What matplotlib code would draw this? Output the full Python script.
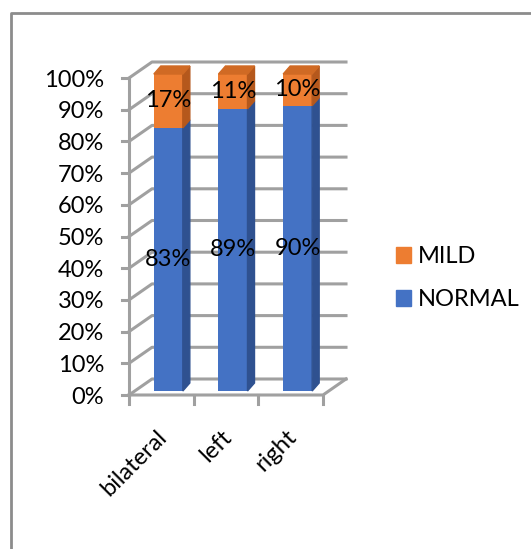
import numpy as np
import matplotlib
matplotlib.use("Agg")
import matplotlib.pyplot as plt
from matplotlib.patches import Polygon, Patch
from matplotlib.lines import Line2D

plt.rcParams['font.family'] = ['Lato', 'DejaVu Sans']

# data
categories = ["bilateral", "left", "right"]
normal = [83, 89, 90]
mild = [17, 11, 10]
yticks = [0, 10, 20, 30, 40, 50, 60, 70, 80, 90, 100]

c_normal, c_normal_side = "#4472C4", "#2F5190"
c_mild, c_mild_side, c_mild_top = "#ED7D31", "#B5581C", "#D06A24"
grid_c = "#A0A0A0"
fs = 17

W, H = 531, 549
fig = plt.figure(figsize=(W / 100, H / 100), dpi=100)
# axes = bar front plane
ax = fig.add_axes([136 / W, (H - 391) / H, 194 / W, 317 / H])
ax.set_xlim(-0.5, 2.5)
ax.set_ylim(0, 100)
ax.axis("off")

ux = 194 / 3      # px per category
uy = 317 / 100    # px per percent


def px(dx, dy):
    # screen pixel offset (dy down) -> data offset
    return dx / ux, -dy / uy


fx, fy = px(-7, 4)     # front wall plane
bx, by = px(16, -12)   # back wall plane
dx, dy = px(7, -8)     # bar depth
bw = 29 / ux

# walls and gridlines
for t in yticks:
    xs = [-0.5 + fx, -0.5 + bx, 2.5 + bx]
    ys = [t + fy, t + by, t + by]
    ax.add_line(Line2D(xs, ys, color=grid_c, lw=2.2, clip_on=False, zorder=1))
    tx0, _ = px(-7, 0)
    ax.add_line(Line2D([-0.5 + fx + tx0, -0.5 + fx], [t + fy, t + fy],
                       color=grid_c, lw=2.2, clip_on=False, zorder=1))
    ax.text(-0.5 + fx + px(-25, 0)[0], t + fy + px(0, 2)[1], f"{t}%",
            ha="right", va="center", fontsize=fs, clip_on=False)

ax.add_line(Line2D([-0.5 + fx, -0.5 + fx], [0 + fy, 100 + fy], color=grid_c, lw=2.2,
                   clip_on=False, zorder=1))
ax.add_line(Line2D([-0.5 + fx, 2.5 + fx, 2.5 + bx], [fy, fy, by], color=grid_c, lw=2.2,
                   clip_on=False, zorder=1))
tick_len = px(0, 9)[1]
for b in [-0.5, 0.5, 1.5, 2.5]:
    ax.add_line(Line2D([b + fx, b + fx], [fy, fy + tick_len], color=grid_c, lw=2.2,
                       clip_on=False, zorder=1))

# bars
x = np.arange(len(categories))
for seg, base, col, side in [(normal, [0] * 3, c_normal, c_normal_side),
                             (mild, normal, c_mild, c_mild_side)]:
    ax.bar(x, seg, bottom=base, width=bw, color=col, zorder=3, clip_on=False)
    for i in range(len(x)):
        r = x[i] + bw / 2
        y0, y1 = base[i], base[i] + seg[i]
        ax.add_patch(Polygon([(r, y0), (r + dx, y0 + dy), (r + dx, y1 + dy), (r, y1)],
                             closed=True, color=side, zorder=3, clip_on=False))
        ax.text(x[i], (y0 + y1) / 2, f"{seg[i]}%", ha="center", va="center",
                fontsize=fs, zorder=5, clip_on=False)

for i in range(len(x)):
    l, r, top = x[i] - bw / 2, x[i] + bw / 2, normal[i] + mild[i]
    ax.add_patch(Polygon([(l, top), (r, top), (r + dx, top + dy), (l + dx, top + dy)],
                         closed=True, color=c_mild_top, zorder=3, clip_on=False))

# category labels
lx, ly = px(10, 31)
for i, c in enumerate(categories):
    ax.text(x[i] + fx + lx, fy + ly, c, rotation=45, ha="right", va="top",
            fontsize=fs, clip_on=False)

# legend
handles = [Patch(color=c_mild, label="MILD"), Patch(color=c_normal, label="NORMAL")]
fig.legend(handles=handles, loc="upper left", bbox_to_anchor=(396 / W, 1 - 246 / H),
           frameon=False, fontsize=fs, handlelength=0.64, handleheight=0.64,
           handletextpad=0.3, labelspacing=0.95, borderpad=0, borderaxespad=0)

# outer frame
fig.add_artist(Line2D([11 / W, 11 / W, 1.0], [0, 1 - 12.5 / H, 1 - 12.5 / H],
                      transform=fig.transFigure, color="#8C8C8C", lw=2))

fig.savefig("out.png", dpi=100)
